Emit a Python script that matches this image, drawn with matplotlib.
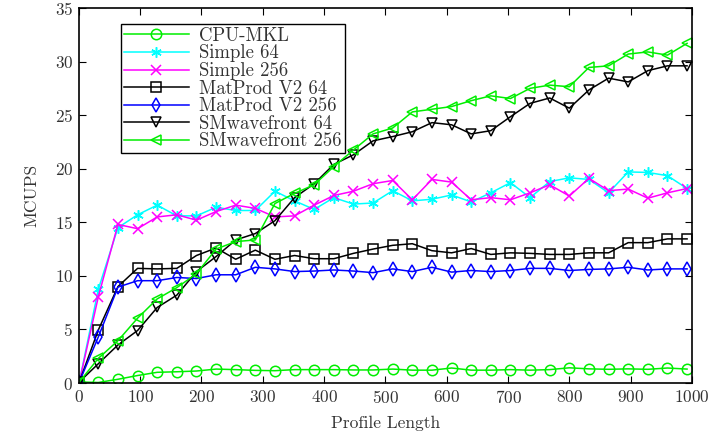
import matplotlib
matplotlib.use("Agg")
import matplotlib.pyplot as plt

plt.rcParams["font.family"] = ["cmr10", "DejaVu Serif"]
plt.rcParams["axes.formatter.use_mathtext"] = True
plt.rcParams["mathtext.fontset"] = "cm"

# profile lengths (x axis)
profile_len = [1] + list(range(32, 1000, 32))

cpu_mkl = [0.1, 0.05, 0.35, 0.7, 1.0, 1.05, 1.12, 1.3, 1.25, 1.18, 1.15, 1.25,
           1.25, 1.25, 1.22, 1.22, 1.3, 1.2, 1.2, 1.4, 1.2, 1.2, 1.25, 1.2,
           1.25, 1.42, 1.32, 1.28, 1.32, 1.28, 1.4, 1.3]

simple_64 = [0.1, 8.75, 14.5, 15.7, 16.6, 15.6, 15.6, 16.4, 16.1, 16.1, 17.9, 17.0,
             16.2, 17.3, 16.7, 16.8, 17.95, 17.0, 17.15, 17.55, 16.9, 17.75, 18.7, 17.3,
             18.8, 19.15, 19.0, 17.75, 19.7, 19.65, 19.35, 18.15]

simple_256 = [0.1, 8.05, 14.8, 14.4, 15.5, 15.7, 15.2, 16.0, 16.6, 16.3, 15.5, 15.6,
              16.6, 17.5, 17.9, 18.6, 18.9, 17.1, 19.0, 18.75, 17.1, 17.3, 17.1, 17.75,
              18.5, 17.45, 19.1, 17.95, 18.1, 17.25, 17.75, 18.15]

matprod_64 = [0.1, 4.95, 9.0, 10.7, 10.65, 10.7, 11.9, 12.6, 11.55, 12.4, 11.55, 11.9,
              11.6, 11.6, 12.1, 12.5, 12.85, 13.0, 12.35, 12.15, 12.55, 12.0, 12.15, 12.1,
              12.0, 12.0, 12.15, 12.15, 13.1, 13.1, 13.45, 13.45]

matprod_256 = [0.1, 4.3, 8.95, 9.55, 9.55, 9.85, 9.75, 10.1, 10.1, 10.8, 10.65, 10.4,
               10.45, 10.55, 10.45, 10.3, 10.65, 10.4, 10.8, 10.35, 10.5, 10.4, 10.5, 10.7,
               10.7, 10.5, 10.6, 10.65, 10.8, 10.55, 10.65, 10.65]

smwave_64 = [0.1, 1.8, 3.55, 4.9, 7.05, 8.2, 10.4, 11.8, 13.35, 13.95, 15.15, 17.3,
             18.6, 20.4, 21.3, 22.6, 23.0, 23.45, 24.3, 24.1, 23.25, 23.55, 24.85, 26.1,
             26.6, 25.65, 27.35, 28.45, 28.1, 29.15, 29.6, 29.6]

smwave_256 = [0.1, 2.3, 3.95, 6.05, 7.85, 8.9, 10.2, 12.5, 13.2, 13.35, 16.75, 17.7,
              18.5, 20.2, 21.75, 23.25, 23.8, 25.3, 25.55, 25.8, 26.35, 26.8, 26.55, 27.5,
              27.8, 27.65, 29.45, 29.6, 30.7, 30.9, 30.6, 31.7]

series = [
    ("CPU-MKL", cpu_mkl, "#00ee00", "o"),
    ("Simple 64", simple_64, "#00ffff", (6, 2, 0)),
    ("Simple 256", simple_256, "#ff00ff", "x"),
    ("MatProd V2 64", matprod_64, "black", "s"),
    ("MatProd V2 256", matprod_256, "#0000ff", "d"),
    ("SMwavefront 64", smwave_64, "black", "v"),
    ("SMwavefront 256", smwave_256, "#00ee00", "<"),
]

fig = plt.figure(figsize=(7.09, 4.43), dpi=100)
ax = fig.add_axes([0.111, 0.1354, 0.865, 0.8466])

for label, vals, color, marker in series:
    ax.plot(profile_len, vals, color=color, marker=marker, markersize=7.5,
            markerfacecolor="none", markeredgecolor=color, markeredgewidth=1.1,
            linewidth=1.1, label=label)

ax.set_xlim(0, 1000)
ax.set_ylim(0, 35)
ax.set_xticks(range(0, 1001, 100))
ax.set_yticks(range(0, 36, 5))
ax.tick_params(direction="in", top=True, right=True, labelsize=12.3, length=5,
               colors="black", labelcolor="#333333", pad=4)
for sp in ax.spines.values():
    sp.set_linewidth(1.2)

ax.set_xlabel("Profile Length", fontsize=12.5, color="#333333", labelpad=7)
ax.set_ylabel("MCUPS", fontsize=12.5, color="#333333", labelpad=11)

leg = ax.legend(loc="upper left", bbox_to_anchor=(0.0685, 0.957), fontsize=13.5,
                frameon=True, fancybox=False, edgecolor="black", framealpha=1,
                handlelength=3.5, labelspacing=-0.02, borderpad=0.15,
                handletextpad=0.55, borderaxespad=0)
leg.get_frame().set_linewidth(1.0)
for t in leg.get_texts():
    t.set_color("#333333")

fig.savefig("out.png", dpi=100)
